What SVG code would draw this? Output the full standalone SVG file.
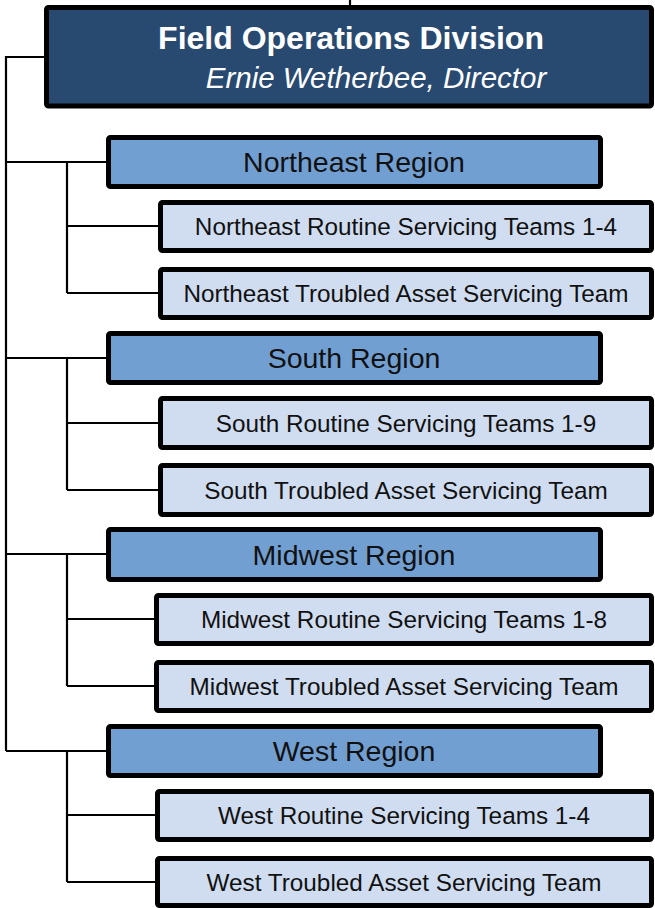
<svg xmlns="http://www.w3.org/2000/svg" width="655" height="908" viewBox="0 0 655 908">
<style>
.conn{fill:none;stroke:#000;stroke-width:2.2}
.box{stroke:#000;stroke-width:5}
.top{fill:#294a70}
.reg{fill:#729fd1}
.sub{fill:#d0ddf0}
.t{font-family:"Liberation Sans",Arial,sans-serif;text-anchor:middle;fill:#111}
.rt{font-size:28.5px}
.st{font-size:24.3px}
</style>
<rect width="655" height="908" fill="#fff"/>
<g id="connectors">
<path class="conn" d="M350,0V7"/>
<path class="conn" d="M44,57H6V751"/>
<path class="conn" d="M6,162H106M67,162V293M67,226H158M67,293H158"/>
<path class="conn" d="M6,358H106M67,358V490M67,423H158M67,490H158"/>
<path class="conn" d="M6,554H106M67,554V686M67,619H154M67,686H154"/>
<path class="conn" d="M6,751H106M67,751V882M67,815H155M67,882H155"/>
</g>
<g id="division">
<rect class="box top" x="46.5" y="7.5" width="605" height="98.5" rx="2"/>
<text x="351" y="49" font-family="Liberation Sans,Arial,sans-serif" font-size="32" font-weight="bold" fill="#fff" text-anchor="middle">Field Operations Division</text>
<text x="376" y="88" font-family="Liberation Sans,Arial,sans-serif" font-size="29.5" font-style="italic" fill="#fff" text-anchor="middle">Ernie Wetherbee, Director</text>
</g>
<g id="northeast-region">
<rect class="box reg" x="108.5" y="137.5" width="492" height="49" rx="2"/>
<text class="t rt" x="354" y="172">Northeast Region</text>
</g>
<g id="northeast-routine">
<rect class="box sub" x="160.5" y="202.5" width="491" height="48" rx="2"/>
<text class="t st" x="406" y="235">Northeast Routine Servicing Teams 1-4</text>
</g>
<g id="northeast-troubled">
<rect class="box sub" x="160.5" y="269.5" width="491" height="48" rx="2"/>
<text class="t st" x="406" y="302">Northeast Troubled Asset Servicing Team</text>
</g>
<g id="south-region">
<rect class="box reg" x="108.5" y="333.5" width="492" height="49" rx="2"/>
<text class="t rt" x="354" y="368">South Region</text>
</g>
<g id="south-routine">
<rect class="box sub" x="160.5" y="398.5" width="491" height="49" rx="2"/>
<text class="t st" x="406" y="431.5">South Routine Servicing Teams 1-9</text>
</g>
<g id="south-troubled">
<rect class="box sub" x="160.5" y="465.5" width="491" height="49" rx="2"/>
<text class="t st" x="406" y="498.5">South Troubled Asset Servicing Team</text>
</g>
<g id="midwest-region">
<rect class="box reg" x="108.5" y="529.5" width="492" height="50" rx="2"/>
<text class="t rt" x="354" y="564.5">Midwest Region</text>
</g>
<g id="midwest-routine">
<rect class="box sub" x="156.5" y="595.5" width="495" height="48" rx="2"/>
<text class="t st" x="404" y="628">Midwest Routine Servicing Teams 1-8</text>
</g>
<g id="midwest-troubled">
<rect class="box sub" x="156.5" y="662.5" width="495" height="48" rx="2"/>
<text class="t st" x="404" y="695">Midwest Troubled Asset Servicing Team</text>
</g>
<g id="west-region">
<rect class="box reg" x="108.5" y="726.5" width="492" height="49" rx="2"/>
<text class="t rt" x="354" y="761">West Region</text>
</g>
<g id="west-routine">
<rect class="box sub" x="157.5" y="791.5" width="494" height="48" rx="2"/>
<text class="t st" x="404" y="824">West Routine Servicing Teams 1-4</text>
</g>
<g id="west-troubled">
<rect class="box sub" x="157.5" y="858.5" width="494" height="47" rx="2"/>
<text class="t st" x="404" y="891">West Troubled Asset Servicing Team</text>
</g>
</svg>
